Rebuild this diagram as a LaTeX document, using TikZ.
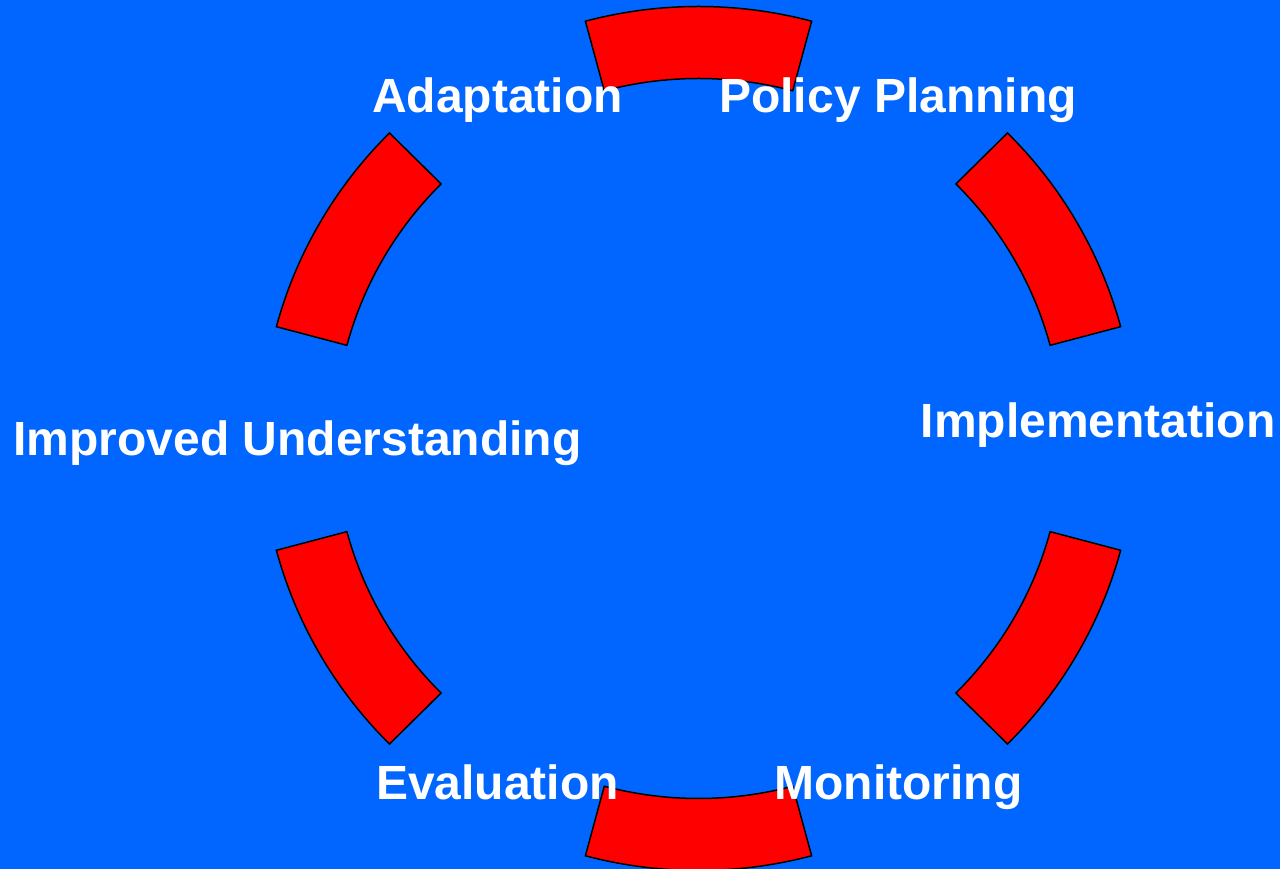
\documentclass[tikz,border=0pt]{standalone}
\usepackage{fontspec}
\setmainfont{Liberation Sans}
\definecolor{bgblue}{HTML}{0066FF}
\definecolor{segred}{HTML}{FF0000}
\begin{document}
\begin{tikzpicture}[x=1pt,y=1pt,
  seg/.style={fill=segred,draw=black,line width=1.5pt,line join=miter},
  lbl/.style={text=white,font=\fontsize{48}{52}\selectfont\bfseries,anchor=base,inner sep=0pt}]
\fill[bgblue] (0,0) rectangle (1280,869);
\useasboundingbox (0,0) rectangle (1280,869);
\coordinate (c) at (698.5,430.5);
\foreach \a in {90,30,-30,-90,-150,150}{
  \draw[seg] ([shift={({437*cos(\a-15)},{432*sin(\a-15)})}]c)
      arc[start angle=\a-15,end angle=\a+15,x radius=437,y radius=432]
    -- ([shift={({364*cos(\a+15)},{360*sin(\a+15)})}]c)
      arc[start angle=\a+15,end angle=\a-15,x radius=364,y radius=360] -- cycle;
}
\node[lbl] (adapt) at (497.5,869-113) {Adaptation};
\node[lbl] (policy) at (898,869-113) {Policy Planning};
\node[lbl] (impl) at (1098,869-438) {Implementation};
\node[lbl] (improved) at (297.5,869-456) {Improved Understanding};
\node[lbl] (eval) at (497.5,869-800) {Evaluation};
\node[lbl] (monit) at (898.5,869-800) {Monitoring};
\end{tikzpicture}
\end{document}
